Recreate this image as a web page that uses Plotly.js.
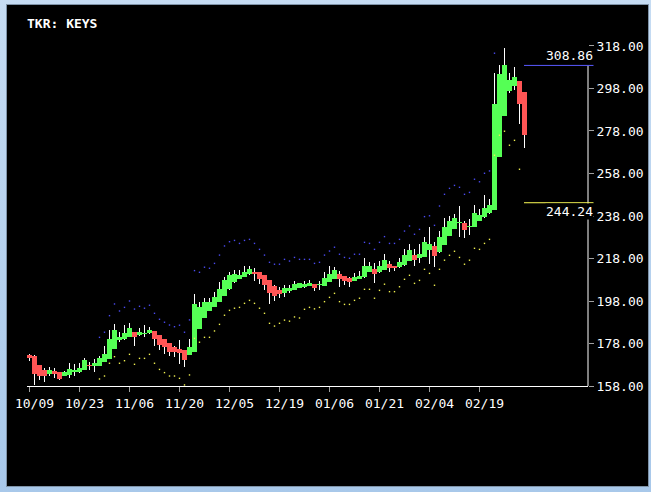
<!DOCTYPE html>
<html><head><meta charset="utf-8">
<script src="https://cdn.plot.ly/plotly-3.0.1.min.js"></script>
<style>
html,body{margin:0;padding:0;width:651px;height:492px;overflow:hidden;background:linear-gradient(#c6dcf3,#a8c8ea);}
#frame{position:absolute;left:6px;top:4px;width:641px;height:481px;border:1px solid #7f93a8;background:#000;}
#chart{width:641px;height:481px;}
</style></head><body>
<div id="frame"><div id="chart"></div></div>
<script>
const ticker = "KEYS";
const tickLabels = ["10/09","10/23","11/06","11/20","12/05","12/19","01/06","01/21","02/04","02/19"];
const tickIndex = [0,10,20,30,40,50,60,70,80,90];

const opens = [172.6,172.1,167.9,165.5,163.6,165.1,164.4,162.8,163.2,164.7,
164.7,165.5,168.1,167.6,167.6,169.4,170.7,175.4,179.6,180.1,
181.2,183.4,182.0,182.6,182.8,183.9,182.0,180.1,178.1,176.5,
175.4,174.9,172.6,174.1,184.8,190.1,193.4,195.3,197.7,200.5,
203.6,206.8,208.4,209.4,210.6,211.8,211.5,210.2,207.9,205.1,
203.2,201.9,202.8,203.2,204.3,204.5,205.1,206.0,205.3,205.2,
207.1,208.4,210.7,209.8,209.0,207.6,208.4,209.2,211.8,213.1,
211.5,212.6,215.4,214.5,213.9,214.9,217.0,219.6,218.1,218.8,
222.0,223.9,220.9,224.4,228.7,231.9,234.6,234.8,233.0,233.0,
235.8,237.4,239.3,240.8,265.9,285.1,297.0,299.2,301.5,296.2];
const highs = [173.1,172.4,168.0,166.5,167.1,166.3,164.6,165.0,168.7,168.3,
168.7,171.0,169.1,170.7,172.0,176.8,184.4,187.2,183.6,186.8,
187.5,183.6,185.3,186.5,185.8,184.1,182.2,180.3,178.3,176.8,
179.6,175.1,180.1,201.3,197.5,199.3,199.3,202.4,206.8,209.4,
211.8,212.8,212.4,214.5,214.5,213.6,211.7,210.4,208.1,205.3,
204.4,205.5,205.5,207.6,206.5,207.6,207.9,206.2,207.3,211.5,
214.5,213.9,212.1,210.0,209.2,211.0,212.1,218.1,216.4,215.8,
216.9,220.1,216.9,214.7,218.1,222.4,224.8,222.4,224.8,228.3,
233.0,226.0,231.1,236.9,238.0,238.9,242.7,235.6,236.7,243.2,
241.3,247.9,245.9,305.4,309.1,316.9,305.4,308.0,301.7,296.4];
const lows = [169.9,158.5,160.8,160.0,162.8,161.8,160.8,162.5,162.0,162.8,
164.0,165.3,165.7,164.7,167.3,169.2,170.5,175.2,178.5,179.5,
181.0,176.8,181.4,181.0,182.5,177.0,174.9,173.1,172.1,171.8,
168.4,167.1,172.4,173.9,184.6,189.9,193.2,195.1,197.5,200.3,
203.4,206.6,208.2,209.2,210.4,207.6,206.0,203.2,196.6,198.0,
199.3,200.0,201.6,203.0,204.1,204.3,204.9,202.9,203.4,205.0,
206.9,208.2,204.7,205.5,204.7,207.4,208.2,209.0,211.6,206.3,
211.3,212.4,211.7,212.3,213.7,214.7,216.8,214.6,216.0,218.6,
215.5,214.1,220.7,224.2,228.5,231.7,228.3,227.8,229.2,232.8,
235.6,237.2,239.1,240.6,265.7,284.9,295.7,297.3,281.3,270.1];
const closes = [171.3,163.6,162.8,162.8,165.5,163.6,161.3,164.7,165.9,165.5,
166.6,170.2,167.6,168.7,171.0,173.1,180.1,184.4,181.2,182.8,
185.1,181.2,183.3,183.1,184.4,180.1,177.3,176.2,174.1,174.1,
173.4,170.2,176.5,196.6,195.0,197.4,197.4,199.7,203.6,207.9,
210.2,210.7,210.2,211.8,213.1,210.7,208.4,205.5,201.9,200.5,
201.3,204.3,204.0,206.0,206.3,205.9,206.6,204.0,205.8,209.0,
210.7,212.6,208.4,207.6,207.1,209.2,209.9,214.5,214.5,210.7,
214.5,217.3,213.4,213.7,216.2,219.6,222.0,217.3,220.1,225.9,
224.8,219.2,228.3,233.0,235.6,236.9,235.3,231.4,233.5,239.6,
238.5,241.9,243.2,290.7,304.8,309.1,302.0,303.2,290.7,276.1];

const upperBand = [null,null,null,null,null,null,null,null,null,null,
null,null,null,null,180.9,183.3,191.1,196.6,193.3,195.0,
198.0,194.2,195.5,194.6,196.0,192.2,189.4,188.0,186.7,185.9,
186.6,183.3,189.1,212.3,211.5,213.9,213.4,215.7,219.6,223.9,
225.9,226.5,225.1,226.5,227.0,225.1,222.3,219.6,216.2,215.3,
215.3,217.6,216.8,218.5,217.6,217.6,217.6,215.7,216.2,219.6,
221.5,223.3,220.0,218.5,218.1,220.0,220.0,225.6,225.1,222.3,
225.6,228.3,225.1,225.1,227.0,230.9,233.3,229.4,231.7,237.7,
238.1,233.6,242.7,248.2,251.0,252.4,251.5,248.2,249.1,255.3,
254.1,258.1,259.2,314.6,null,null,null,null,null,null];
const lowerBand = [null,null,null,null,null,null,null,null,null,null,
null,null,null,null,161.3,162.7,168.7,171.8,168.7,169.9,
172.9,168.2,171.0,171.0,172.9,168.7,165.8,164.3,162.7,162.7,
161.6,158.5,163.2,180.4,178.6,180.9,180.9,183.9,187.0,191.3,
193.6,194.6,195.0,196.9,198.3,196.9,194.6,192.2,187.5,186.2,
187.5,189.0,188.5,190.5,190.0,194.1,195.0,194.3,195.0,197.7,
199.7,201.6,197.7,196.4,196.4,198.3,199.3,203.5,203.5,199.3,
203.0,205.9,202.4,202.4,204.7,208.2,210.1,206.3,207.7,212.9,
211.0,205.4,212.9,217.2,219.5,221.4,218.5,215.3,217.2,222.8,
222.3,225.1,227.0,266.6,276.0,277.9,271.3,273.6,260.0,null];

const refUpper = 308.86;
const refLower = 244.24;
const yTicks = [158,178,198,218,238,258,278,298,318];

const UP = "#55ff55", DOWN = "#ff5555";
const FONT = "DejaVu Sans Mono";
const idx = opens.map((_, i) => i);
const xRange = [-0.5, 111.7];
const yRange = [158, 320.82];

const bodyBase = opens.map((o, i) => Math.min(o, closes[i]));
const bodyLen = opens.map((o, i) => Math.max(Math.abs(closes[i] - o), 0.45));
const bodyColor = opens.map((o, i) => closes[i] >= o ? UP : DOWN);

const traces = [
  {type: "bar", x: idx, base: lows, y: highs.map((h, i) => h - lows[i]), width: 0.2,
   marker: {color: "#ffffff", line: {width: 0}}, hoverinfo: "skip"},
  {type: "bar", x: idx, base: bodyBase, y: bodyLen, width: 1,
   marker: {color: bodyColor, line: {width: 0}}, hoverinfo: "skip"},
  {type: "scatter", mode: "markers", x: idx, y: upperBand,
   marker: {size: 1.4, symbol: "square", color: "#4a4af0", line: {width: 0}}, hoverinfo: "skip"},
  {type: "scatter", mode: "markers", x: idx, y: lowerBand,
   marker: {size: 1.4, symbol: "square", color: "#f0f050", line: {width: 0}}, hoverinfo: "skip"}
];

const plotW = 561;
const lastIdx = idx[idx.length - 1];
const lineX0 = (lastIdx - 0.1 - xRange[0]) / (xRange[1] - xRange[0]);
const lineX1 = 1 + 5.5 / plotW;

const layout = {
  width: 641, height: 481,
  margin: {l: 20, r: 60, t: 35, b: 100},
  paper_bgcolor: "#000000", plot_bgcolor: "#000000",
  showlegend: false, barmode: "overlay", bargap: 0,
  title: {text: "TKR: " + ticker, xref: "container", yref: "container",
          x: 20 / 641, xanchor: "left", y: 1 - 18.5 / 481, yanchor: "middle",
          font: {family: FONT, size: 13, color: "#ffffff", weight: "bold"}},
  xaxis: {range: xRange, showgrid: false, zeroline: false,
          showline: true, linecolor: "#ffffff", linewidth: 1,
          ticks: "outside", ticklen: 5, tickwidth: 1, tickcolor: "#a0a0a0",
          tickvals: tickIndex, ticktext: tickLabels, ticklabelshift: 5,
          tickfont: {family: FONT, size: 13, color: "#ffffff"}, fixedrange: true},
  yaxis: {range: yRange, side: "right", showgrid: false, zeroline: false, showline: false,
          ticks: "outside", ticklen: 5, tickwidth: 1, tickcolor: "#a0a0a0",
          tickvals: yTicks, ticktext: yTicks.map(v => v.toFixed(2)),
          tickfont: {family: FONT, size: 13, color: "#ffffff"}, fixedrange: true},
  shapes: [
    {type: "line", xref: "paper", yref: "y", x0: 1, x1: 1, y0: yRange[0], y1: refUpper,
     line: {color: "#ffffff", width: 1}},
    {type: "line", xref: "paper", yref: "y", x0: lineX0, x1: lineX1, y0: refUpper, y1: refUpper,
     line: {color: "#5a5aff", width: 1}},
    {type: "line", xref: "paper", yref: "y", x0: lineX0, x1: lineX1, y0: refLower, y1: refLower,
     line: {color: "#ffff55", width: 1}}
  ],
  annotations: [
    {xref: "paper", yref: "y", x: lineX1, y: refUpper, xanchor: "right", yanchor: "bottom",
     text: refUpper.toFixed(2), showarrow: false, borderpad: 0, yshift: 1,
     font: {family: FONT, size: 13, color: "#ffffff"}},
    {xref: "paper", yref: "y", x: lineX1, y: refLower, xanchor: "right", yanchor: "top",
     text: refLower.toFixed(2), showarrow: false, borderpad: 0, bgcolor: "#000000",
     font: {family: FONT, size: 13, color: "#ffffff"}}
  ]
};

Plotly.newPlot("chart", traces, layout, {displayModeBar: false, staticPlot: true});
</script></body></html>
